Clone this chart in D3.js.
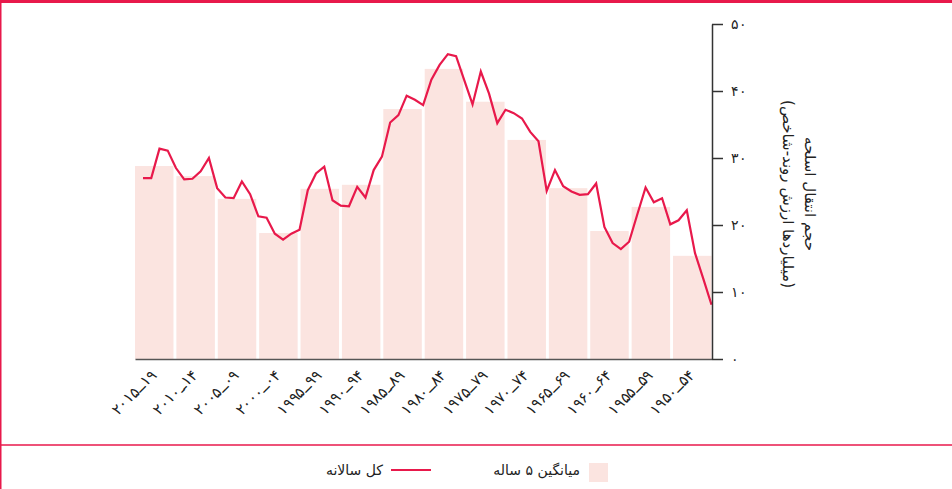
<!DOCTYPE html>
<html>
<head>
<meta charset="utf-8">
<script src="https://cdn.jsdelivr.net/npm/d3@7"></script>
<style>
body { margin: 0; background: #fff; }
svg { display: block; font-family: "DejaVu Sans", sans-serif; }
</style>
</head>
<body>
<div id="chart"></div>
<script>
var w = 952;
var h = 489;
var red = "#e8194b";
var pink = "#fbe4e0";

// five-year periods, oldest first (drawn right to left)
var periods = ["1950-54","1955-59","1960-64","1965-69","1970-74","1975-79","1980-84",
               "1985-89","1990-94","1995-99","2000-04","2005-09","2010-14","2015-19"];
var periodLabels = ["۱۹۵۰ــ۵۴","۱۹۵۵ــ۵۹","۱۹۶۰ــ۶۴","۱۹۶۵ــ۶۹","۱۹۷۰ــ۷۴","۱۹۷۵ــ۷۹","۱۹۸۰ــ۸۴",
                    "۱۹۸۵ــ۸۹","۱۹۹۰ــ۹۴","۱۹۹۵ــ۹۹","۲۰۰۰ــ۰۴","۲۰۰۵ــ۰۹","۲۰۱۰ــ۱۴","۲۰۱۵ــ۱۹"];
var fiveYearAvg = [15.4, 22.7, 19.1, 25.5, 32.7, 38.4, 43.3, 37.3, 26.0, 25.4, 18.8, 23.9, 27.3, 28.8];

// annual totals 1950..2019
var firstYear = 1950;
var annualTotal = [
  8.1, 12.0, 15.8, 22.2, 20.7,
  20.1, 24.0, 23.4, 25.6, 21.6,
  17.5, 16.4, 17.3, 19.7, 26.2,
  24.6, 24.5, 25.0, 25.8, 28.2,
  25.1, 32.5, 33.9, 35.9, 36.7,
  37.2, 35.2, 39.6, 42.9, 38.0,
  41.6, 45.2, 45.5, 43.9, 41.7,
  37.9, 38.7, 39.3, 36.4, 35.3,
  30.2, 28.2, 24.1, 25.7, 22.8,
  22.9, 23.7, 28.7, 27.7, 25.2,
  19.3, 18.7, 17.8, 18.7, 21.1,
  21.3, 24.6, 26.5, 24.0, 24.1,
  25.5, 30.0, 28.0, 26.9, 26.8,
  28.5, 31.1, 31.4, 27.0, 27.0
];

var yTicks = [0, 10, 20, 30, 40, 50];
var yTickLabels = ["۰", "۱۰", "۲۰", "۳۰", "۴۰", "۵۰"];

var svg = d3.select("#chart").append("svg").attr("width", w).attr("height", h);

// frame lines
svg.append("rect").attr("x", 0).attr("y", 0).attr("width", w).attr("height", 3).style("fill", red);
svg.append("line").attr("x1", 0.75).attr("x2", 0.75).attr("y1", 0).attr("y2", h)
    .style("stroke", red).style("stroke-width", 1.5);
svg.append("line").attr("x1", 0).attr("x2", w).attr("y1", 445).attr("y2", 445)
    .style("stroke", red).style("stroke-width", 1.5);

var xBand = d3.scaleBand().domain(periods).range([711.5, 135]).paddingInner(0.07);
var xYear = d3.scaleLinear().domain([1950, 2019]).range([711.5, 143]);
var y = d3.scaleLinear().domain([0, 50]).range([359, 24]);

svg.selectAll("rect.bar").data(fiveYearAvg).enter().append("rect")
    .attr("class", "bar")
    .attr("x", function(d, i) { return xBand(periods[i]); })
    .attr("y", function(d) { return y(d); })
    .attr("width", xBand.bandwidth())
    .attr("height", function(d) { return y(0) - y(d); })
    .style("fill", pink);

var line = d3.line()
    .x(function(d, i) { return xYear(firstYear + i); })
    .y(function(d) { return y(d); });

svg.append("path").datum(annualTotal)
    .attr("d", line)
    .style("fill", "none")
    .style("stroke", red)
    .style("stroke-width", 2.2);

// x axis
var xAxis = svg.append("g").attr("transform", "translate(0,359)")
    .call(d3.axisBottom(xBand).tickSize(0).tickSizeOuter(0)
        .tickFormat(function(d) { return "\u202D" + periodLabels[periods.indexOf(d)] + "\u202C"; }));
xAxis.select(".domain").style("stroke", "#555").style("stroke-width", 1.5);
xAxis.selectAll("text")
    .attr("y", 0).attr("dy", 0)
    .attr("text-anchor", "end")
    .attr("transform", "translate(3,17) rotate(-45)")
    .style("font-size", "15px")
    .style("fill", "#222");

// y axis on the right
var yAxis = svg.append("g").attr("transform", "translate(712,0)")
    .call(d3.axisRight(y).tickValues(yTicks)
        .tickFormat(function(d, i) { return yTickLabels[i]; })
        .tickSize(11).tickSizeOuter(0).tickPadding(8));
yAxis.select(".domain").style("stroke", "#333").style("stroke-width", 1.5);
yAxis.selectAll(".tick line").style("stroke", "#333").style("stroke-width", 1.5);
yAxis.selectAll("text").style("font-size", "14px").style("fill", "#222");

// y axis title
var yTitle = svg.append("g").attr("transform", "translate(800,194) rotate(90)");
yTitle.append("text").attr("y", -5).attr("text-anchor", "middle")
    .style("font-size", "15px").style("fill", "#222")
    .text("حجم انتقال اسلحه");
yTitle.append("text").attr("y", 17).attr("text-anchor", "middle")
    .style("font-size", "15px").style("fill", "#222")
    .text("(میلیاردها ارزش روند-شاخص)");

// legend
svg.append("rect").attr("x", 589).attr("y", 463).attr("width", 19).attr("height", 19).style("fill", pink);
svg.append("text").attr("x", 580).attr("y", 475).attr("text-anchor", "end")
    .style("font-size", "14px").style("fill", "#222")
    .text("میانگین ۵ ساله");
svg.append("line").attr("x1", 391).attr("x2", 431).attr("y1", 470).attr("y2", 470)
    .style("stroke", red).style("stroke-width", 2.2);
svg.append("text").attr("x", 383).attr("y", 475).attr("text-anchor", "end")
    .style("font-size", "14px").style("fill", "#222")
    .text("کل سالانه");
</script>
</body>
</html>
